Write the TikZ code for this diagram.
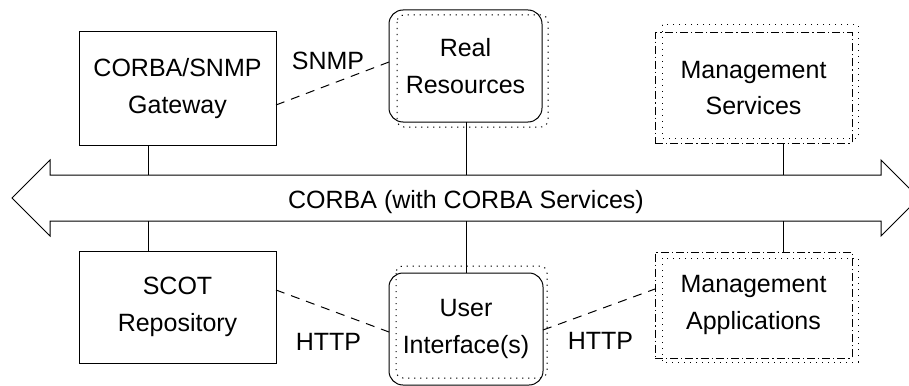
\documentclass[tikz,border=0pt]{standalone}
\usepackage{fontspec}
\setmainfont{Liberation Sans}
\begin{document}
\begin{tikzpicture}[x=1pt,y=-1pt,line width=1pt,
  every node/.style={font=\fontsize{25}{36.5}\selectfont},
  box/.style={draw,rectangle,align=center,inner sep=0pt,outer sep=0pt,minimum width=#1},
  box/.default=197pt,
  rbox/.style={box=#1,rounded corners=14pt},
  ddbox/.style={box=#1,dash pattern=on 8pt off 3pt on 1.2pt off 3pt},
  dotbox/.style={dash pattern=on 1.2pt off 4.8pt},
  link/.style={dash pattern=on 9pt off 7pt},
  lbl/.style={anchor=base,inner sep=0pt}]
\useasboundingbox (0,0) rectangle (909,385);
\begin{scope}
\clip (0,0) rectangle (909,385);
% bus arrow
\draw (12,198) -- (50,160) -- (50,175) -- (881,175) -- (881,160) -- (919,198)
  -- (881,236) -- (881,221) -- (50,221) -- (50,236) -- cycle;
\coordinate (busL) at (148,175);
\coordinate (busLb) at (148,221);
\coordinate (busM) at (466,175);
\coordinate (busMb) at (466,221);
\coordinate (busR) at (783,175);
\coordinate (busRb) at (783,221);
\node[lbl] (corba) at (466,208) {CORBA (with CORBA Services)};

% dotted shadows
\draw[dotbox,rounded corners=7pt] (397,15) rectangle (548,127);
\draw[dotbox] (662,25) rectangle (858,138);
\draw[dotbox,rounded corners=7pt] (396,266) rectangle (547,378);
\draw[dotbox] (662,258) rectangle (858,362);

% boxes
\node[box,minimum height=113pt] (gw) at (177.5,88.5) {CORBA/SNMP\\Gateway};
\node[rbox=153pt,minimum height=112pt] (rr) at (465.5,66) {Real\\Resources};
\node[ddbox,minimum height=110pt] (ms) at (753.5,88) {Management\\Services};
\node[box,minimum height=112pt] (scot) at (177.5,307) {SCOT\\Repository};
\node[rbox=154pt,minimum height=112pt] (ui) at (466,329) {User\\Interface(s)};
\node[ddbox,minimum height=106pt] (ma) at (753.5,305) {Management\\Applications};

% bus connectors
\draw (busL) -- (busL |- gw.south);
\draw (busM) -- (busM |- rr.south);
\draw (busR) -- (busR |- ms.south);
\draw (busLb) -- (busLb |- scot.north);
\draw (busMb) -- (busMb |- ui.north);
\draw (busRb) -- (busRb |- ma.north);

% protocol links
\draw[link] ([yshift=-16.5pt]gw.east) -- ([yshift=4pt]rr.west);
\draw[link] (scot.east |- 0,290) -- (ui.west |- 0,332);
\draw[link] (ui.east |- 0,330) -- (ma.west |- 0,289);
\node[lbl] (snmp) at (328,70) {SNMP};
\node[lbl] (http1) at (328.5,350) {HTTP};
\node[lbl] (http2) at (600.5,349) {HTTP};
\end{scope}
\end{tikzpicture}
\end{document}
